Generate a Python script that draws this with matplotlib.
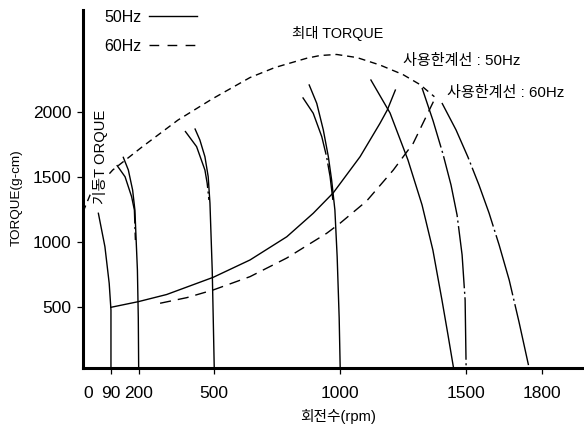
import matplotlib
matplotlib.use('Agg')
import matplotlib.pyplot as plt
from matplotlib.lines import Line2D

plt.rcParams['font.family'] = ['Liberation Sans', 'Noto Sans CJK KR']

# ---- data (rpm, torque g-cm) ----
max_rpm = [-21, 7, 97, 213, 356, 491, 642, 741, 867, 920, 986, 1067, 1158, 1249, 1317, 1374]
max_trq = [1231, 1361, 1553, 1729, 1936, 2097, 2262, 2339, 2410, 2431, 2439, 2415, 2358, 2285, 2208, 2115]

lim50_rpm = [90, 198, 311, 496, 642, 788, 893, 973, 1079, 1158, 1187, 1219]
lim50_trq = [500, 543, 598, 730, 863, 1041, 1221, 1379, 1655, 1911, 2013, 2166]

lim60_rpm = [285, 391, 496, 642, 788, 946, 999, 1105, 1211, 1290, 1370]
lim60_trq = [531, 574, 633, 735, 878, 1067, 1144, 1315, 1553, 1758, 2077]

# speed curves, 50Hz (solid)
s90_rpm = [40, 66, 83, 90, 90]
s90_trq = [1221, 965, 684, 479, 35]
s200_rpm = [139, 159, 176, 185, 195, 198.5, 200]
s200_trq = [1650, 1553, 1399, 1246, 786, 418, 35]
s500_rpm = [424, 443, 463, 476, 483, 492, 496, 500]
s500_trq = [1867, 1783, 1655, 1502, 1298, 786, 418, 35]
s1000_rpm = [877, 907, 933, 953, 966, 979, 988, 996, 1000]
s1000_trq = [2205, 2064, 1860, 1655, 1476, 1246, 888, 418, 35]
s1450_rpm = [1122, 1198, 1269, 1325, 1368, 1404, 1428, 1450]
s1450_trq = [2243, 1990, 1630, 1285, 939, 556, 288, 35]

# speed curves, 60Hz (dash-dot)
t200_rpm = [113, 146, 172, 183, 187]
t200_trq = [1591, 1501, 1348, 1246, 1016]
t500_rpm = [384, 430, 463, 472, 479]
t500_trq = [1852, 1732, 1553, 1451, 1323]
t1000_rpm = [851, 893, 927, 946, 960, 971]
t1000_trq = [2110, 1988, 1808, 1655, 1502, 1323]
t1500_rpm = [1325, 1369, 1408, 1440, 1464, 1484, 1496, 1500]
t1500_trq = [2182, 1929, 1676, 1438, 1208, 902, 556, 35]
t1750_rpm = [1404, 1460, 1507, 1551, 1591, 1631, 1671, 1710, 1750]
t1750_trq = [2067, 1860, 1653, 1438, 1223, 978, 709, 387, 35]

xticks = [0, 90, 200, 500, 1000, 1500, 1800]
yticks = [500, 1000, 1500, 2000]

W, H = 584, 425
fig = plt.figure(figsize=(W / 100, H / 100), dpi=100)
ax = fig.add_axes([83 / W, 57 / H, 499 / W, 358 / H])
ax.set_xlim(-21, 1960)
ax.set_ylim(34.5, 2780)

lw = 1.0
k = 'black'
dashdot = (0, (45, 2.5, 1.5, 2.5))
kw = dict(color=k, lw=lw, solid_joinstyle='round', dash_joinstyle='round')

ax.plot(max_rpm, max_trq, linestyle=(0, (5, 3.5)), **kw)
ax.plot(lim50_rpm, lim50_trq, **kw)
ax.plot(lim60_rpm, lim60_trq, linestyle=(0, (8, 5)), **kw)

for xs, ys in [(s90_rpm, s90_trq), (s200_rpm, s200_trq), (s500_rpm, s500_trq),
               (s1000_rpm, s1000_trq), (s1450_rpm, s1450_trq)]:
    ax.plot(xs, ys, **kw)
for xs, ys in [(t200_rpm, t200_trq), (t500_rpm, t500_trq), (t1000_rpm, t1000_trq),
               (t1500_rpm, t1500_trq), (t1750_rpm, t1750_trq)]:
    ax.plot(xs, ys, linestyle=dashdot, **kw)

# axes styling
for s in ['top', 'right']:
    ax.spines[s].set_visible(False)
for s in ['left', 'bottom']:
    ax.spines[s].set_linewidth(2.2)
ax.set_xticks(xticks)
ax.set_xticklabels([str(v) for v in xticks])
ax.set_yticks(yticks)
ax.set_yticklabels([str(v) for v in yticks])
ax.tick_params(axis='both', labelsize=12.5, width=0.9, length=4.5, pad=4)
ax.tick_params(axis='x', pad=8.5)
ax.xaxis.get_major_ticks()[0].tick1line.set_visible(False)

fig.text(17 / W, 1 - 198 / H, 'TORQUE(g-cm)', rotation=90, ha='center', va='center', fontsize=9.7)
fig.text(338 / W, 1 - 417 / H, '회전수(rpm)', ha='center', va='center', fontsize=10.6)

# annotations
ax.text(809, 2600, '최대 TORQUE', ha='left', va='center', fontsize=10.4)
ax.text(1249, 2390, '사용한계선 : 50Hz', ha='left', va='center', fontsize=10.9)
ax.text(1424, 2140, '사용한계선 : 60Hz', ha='left', va='center', fontsize=10.9)
ax.text(50, 1655, '기동T ORQUE', rotation=90, ha='center', va='center', fontsize=10.6,
        bbox=dict(facecolor='white', edgecolor='none', pad=0.5), zorder=5)

handles = [Line2D([], [], color=k, lw=lw),
           Line2D([], [], color=k, lw=lw, linestyle=(0, (7, 6)))]
fig.legend(handles, ['50Hz', '60Hz'], markerfirst=False, frameon=False,
           loc='upper left', bbox_to_anchor=(104 / W, 1 - 9.5 / H), borderaxespad=0,
           borderpad=0, fontsize=11.5, handlelength=3.0, handletextpad=0.5,
           labelspacing=0.9)

fig.savefig('out.png', dpi=100)
